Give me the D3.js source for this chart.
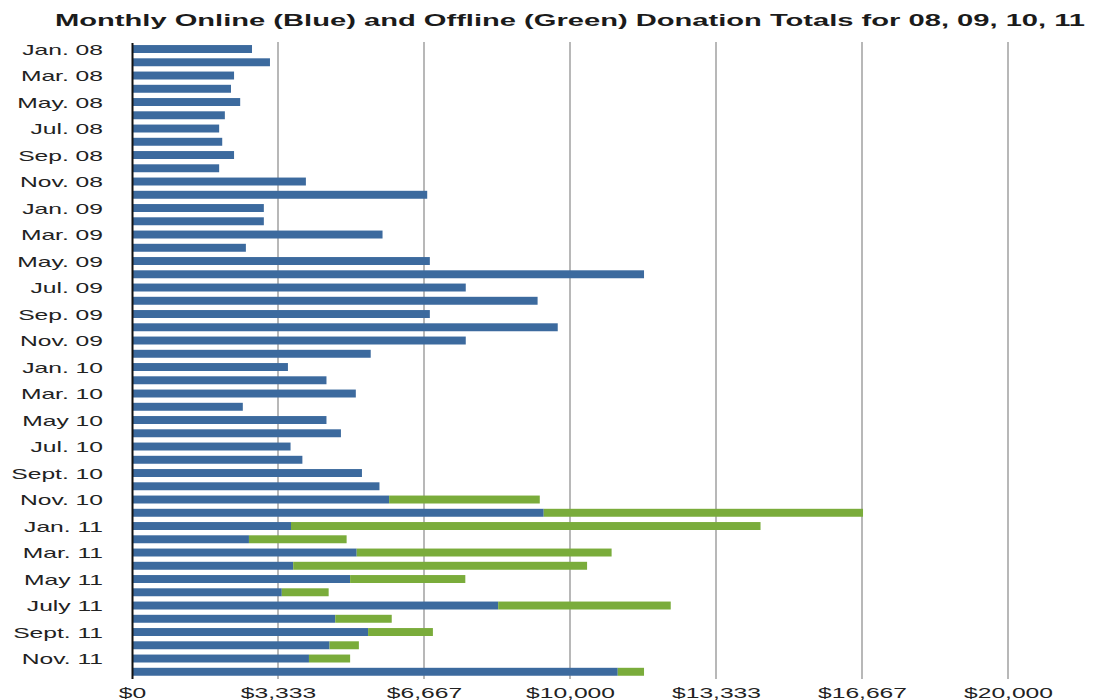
<!DOCTYPE html>
<html><head><meta charset="utf-8">
<script src="https://cdn.jsdelivr.net/npm/d3@7"></script>
<style>body{margin:0;background:#fff}svg{display:block}text{font-family:"Liberation Sans",Arial,Helvetica,sans-serif}</style>
</head><body>
<svg id="c" width="1096" height="700"></svg>
<script>
const months = [
 "Jan 08","Feb 08","Mar 08","Apr 08","May 08","Jun 08","Jul 08","Aug 08","Sep 08","Oct 08","Nov 08","Dec 08",
 "Jan 09","Feb 09","Mar 09","Apr 09","May 09","Jun 09","Jul 09","Aug 09","Sep 09","Oct 09","Nov 09","Dec 09",
 "Jan 10","Feb 10","Mar 10","Apr 10","May 10","Jun 10","Jul 10","Aug 10","Sep 10","Oct 10","Nov 10","Dec 10",
 "Jan 11","Feb 11","Mar 11","Apr 11","May 11","Jun 11","Jul 11","Aug 11","Sep 11","Oct 11","Nov 11","Dec 11"];
const monthLabels = [
 "Jan. 08","","Mar. 08","","May. 08","","Jul. 08","","Sep. 08","","Nov. 08","",
 "Jan. 09","","Mar. 09","","May. 09","","Jul. 09","","Sep. 09","","Nov. 09","",
 "Jan. 10","","Mar. 10","","May 10","","Jul. 10","","Sept. 10","","Nov. 10","",
 "Jan. 11","","Mar. 11","","May 11","","July 11","","Sept. 11","","Nov. 11",""];
const online = [
 2740,3150,2330,2260,2470,2120,1990,2060,2330,1990,3970,6740,
 3010,3010,5720,2600,6800,11690,7620,9260,6800,9720,7620,5450,
 3560,4440,5110,2530,4440,4770,3620,3890,5250,5650,5870,9400,
 3630,2670,5130,3680,4980,3420,8360,4640,5390,4510,4040,11090];
const offline = [
 0,0,0,0,0,0,0,0,0,0,0,0,
 0,0,0,0,0,0,0,0,0,0,0,0,
 0,0,0,0,0,0,0,0,0,0,3440,7290,
 10720,2230,5820,6710,2630,1070,3940,1290,1480,670,940,600];
const xTickValues = [0, 10000/3, 20000/3, 10000, 40000/3, 50000/3, 20000];
const xTickLabels = ["$0","$3,333","$6,667","$10,000","$13,333","$16,667","$20,000"];
const title = "Monthly Online (Blue) and Offline (Green) Donation Totals for 08, 09, 10, 11";

const svg = d3.select("#c");
const SX = 1.76;
const x = d3.scaleLinear().domain([0,20000]).range([132,1008]);
const y = d3.scaleBand().domain(months).range([42.4,678.4]).paddingInner(0.4).paddingOuter(0.2);

// title
svg.append("text").attr("x",55).attr("y",26).attr("font-size",16).attr("font-weight","bold")
  .attr("fill","#1b1b1b").attr("textLength",1030).attr("lengthAdjust","spacingAndGlyphs").text(title);

// gridlines
svg.append("g").selectAll("line").data(xTickValues.slice(1)).join("line")
  .attr("x1",d=>x(d)).attr("x2",d=>x(d)).attr("y1",42).attr("y2",679)
  .attr("stroke","#b8b8b8").attr("stroke-width",2);

// bars
const rows = months.map((m,i)=>({m, on:online[i], off:offline[i]}));
svg.append("g").selectAll("rect").data(rows).join("rect")
  .attr("x",x(0)).attr("y",d=>y(d.m)).attr("height",y.bandwidth())
  .attr("width",d=>x(d.on)-x(0)).attr("fill","#3c6a9e");
svg.append("g").selectAll("rect").data(rows.filter(d=>d.off>0)).join("rect")
  .attr("x",d=>x(d.on)).attr("y",d=>y(d.m)).attr("height",y.bandwidth())
  .attr("width",d=>x(d.on+d.off)-x(d.on)).attr("fill","#7aac3b");

// left axis
const ya = svg.append("g").attr("transform",`translate(${x(0)},0)`)
  .call(d3.axisLeft(y).tickSize(0).tickSizeOuter(0).tickFormat((d,i)=>monthLabels[i]));
ya.select(".domain").attr("stroke","#111").attr("stroke-width",2);
ya.selectAll(".tick text").attr("x",0).attr("dy","0.36em")
  .attr("transform",`translate(-29,0.5) scale(${SX},1)`)
  .attr("font-size",14).attr("fill","#222").attr("font-family",null);

// bottom axis
const xa = svg.append("g").attr("transform","translate(0,678)")
  .call(d3.axisBottom(x).tickValues(xTickValues).tickSize(0).tickFormat((d,i)=>xTickLabels[i]));
xa.select(".domain").remove();
xa.selectAll(".tick text").attr("y",0).attr("dy",0)
  .attr("transform",`translate(0,20) scale(${SX},1)`)
  .attr("font-size",14).attr("fill","#222").attr("font-family",null);
</script>
</body></html>
